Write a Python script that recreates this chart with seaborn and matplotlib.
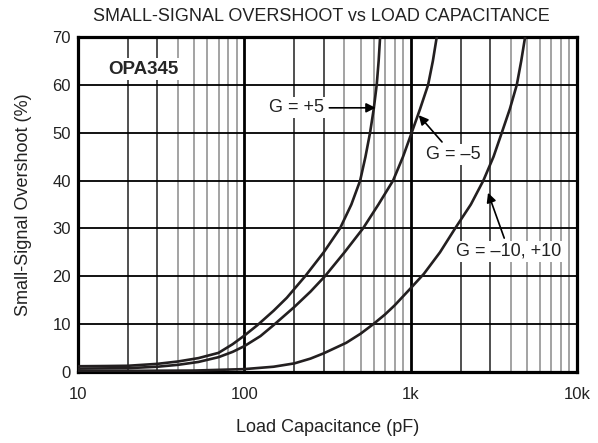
import numpy as np
import pandas as pd
import matplotlib
matplotlib.use('Agg')
import matplotlib.pyplot as plt
from matplotlib.ticker import FixedLocator, NullFormatter
import seaborn as sns

# 読み取った値 (容量 pF, オーバーシュート %)
cap_g5 = [10, 15, 20, 30, 40, 53, 70, 85, 100, 120, 150, 180, 232, 300, 376, 440, 497, 535, 570, 600,
          625, 642, 655]
os_g5 = [1.2, 1.25, 1.3, 1.7, 2.2, 2.9, 4.0, 5.8, 7.6, 9.8, 12.8, 15.5, 20, 25, 30, 35, 40, 45, 50, 55,
         60, 65, 70]

cap_gm5 = [10, 20, 30, 40, 53, 70, 85, 100, 125, 150, 200, 250, 305, 400, 517, 640, 784, 900, 1014,
           1140, 1273, 1360, 1435]
os_gm5 = [0.7, 0.8, 1.1, 1.5, 2.1, 3.1, 4.2, 5.4, 7.5, 9.8, 13.6, 16.8, 20, 25, 30, 35, 40, 45, 50,
          55, 60, 65, 70]

cap_g10 = [10, 50, 100, 150, 200, 250, 300, 410, 500, 596, 700, 800, 1000, 1200, 1500, 1850,
           2300, 2735, 3150, 3530, 3950, 4345, 4620, 4875]
os_g10 = [0.2, 0.3, 0.6, 1.1, 1.8, 2.8, 3.9, 6.1, 8.0, 10, 12, 13.9, 17.5, 20.5, 25, 30,
          35, 40, 45, 50, 55, 60, 65, 70]

x_ticks = [10, 100, 1000, 10000]
x_ticklabels = ['10', '100', '1k', '10k']
y_ticks = [0, 10, 20, 30, 40, 50, 60, 70]

df = pd.concat([
    pd.DataFrame({'cap': cap_g5, 'os': os_g5, 'gain': 'G = +5'}),
    pd.DataFrame({'cap': cap_gm5, 'os': os_gm5, 'gain': 'G = -5'}),
    pd.DataFrame({'cap': cap_g10, 'os': os_g10, 'gain': 'G = -10, +10'}),
])

sns.set_style('white')
plt.rcParams['font.family'] = ['Liberation Sans', 'DejaVu Sans']

fig = plt.figure(figsize=(5.98, 4.43), dpi=100)
ax = fig.add_axes([0.1304, 0.1603, 0.8345, 0.7562])

# グリッド
minor_dark = [20, 30, 200, 300, 2000, 3000]
minor_gray = [m * d for d in (10, 100, 1000) for m in range(4, 10)]
for v in minor_gray:
    ax.axvline(v, color='#8a8a8a', lw=1.1, zorder=1)
for v in minor_dark:
    ax.axvline(v, color='#202020', lw=1.1, zorder=1)
for v in [100, 1000]:
    ax.axvline(v, color='black', lw=2.0, zorder=1)
for v in y_ticks[1:-1]:
    ax.axhline(v, color='black', lw=1.3, zorder=1)

sns.lineplot(data=df, x='cap', y='os', hue='gain', palette=['#231f20'] * 3,
             linewidth=1.9, legend=False, sort=False, estimator=None, ax=ax, zorder=3)

ax.set_xscale('log')
ax.set_xlim(10, 10000)
ax.set_ylim(0, 70)
ax.xaxis.set_major_locator(FixedLocator(x_ticks))
ax.set_xticklabels(x_ticklabels)
ax.xaxis.set_minor_formatter(NullFormatter())
ax.set_yticks(y_ticks)
ax.tick_params(axis='both', which='both', length=0, labelsize=12, colors='#222222')
ax.tick_params(axis='x', pad=11)
ax.tick_params(axis='y', pad=5)
for s in ax.spines.values():
    s.set_linewidth(2.3)
    s.set_color('black')

ax.set_xlabel('Load Capacitance (pF)', fontsize=13, color='#222222', labelpad=12)
ax.set_ylabel('Small-Signal Overshoot (%)', fontsize=13, color='#222222', labelpad=15)
fig.text(0.538, 0.962, 'SMALL-SIGNAL OVERSHOOT vs LOAD CAPACITANCE', ha='center', va='center',
         fontsize=13, color='#222222')

# 注記
box = dict(facecolor='white', edgecolor='none', pad=1.5)
ax.text(24.6, 63.3, 'OPA345', fontsize=13.5, fontweight='bold', ha='center', va='center',
        bbox=box, zorder=4)
arrow = dict(arrowstyle='-|>', color='black', lw=1.2, mutation_scale=14)
ax.annotate('G = +5', xy=(640, 55.2), xytext=(207, 55.2), ha='center', va='center',
            fontsize=13, color='#222222', bbox=box, arrowprops=arrow, zorder=4)
ax.annotate('G = \u20135', xy=(1090, 54.1), xytext=(1800, 45.4), ha='center', va='center',
            fontsize=13, color='#222222', bbox=box, arrowprops=arrow, zorder=4)
ax.annotate('G = \u201310, +10', xy=(2880, 38.0), xytext=(3900, 25.2), ha='center', va='center',
            fontsize=13, color='#222222', bbox=box, arrowprops=arrow, zorder=4)

fig.savefig('out.png', dpi=100)
